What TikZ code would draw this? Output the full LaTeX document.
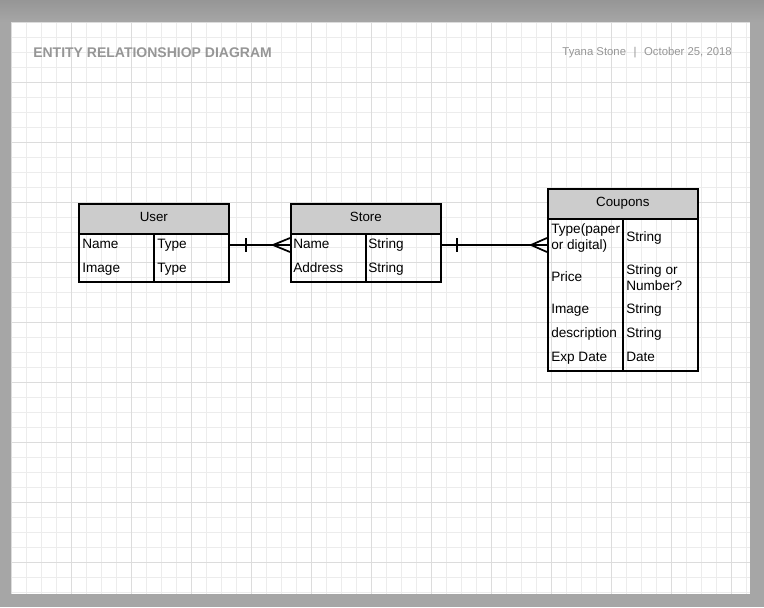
\documentclass[tikz,border=0pt]{standalone}
\usepackage{fontspec}
\setmainfont{Liberation Sans}
\usetikzlibrary{calc}
\definecolor{bggray}{RGB}{166,166,166}
\definecolor{bgdark}{RGB}{150,150,150}
\definecolor{minorgrid}{RGB}{236,236,236}
\definecolor{majorgrid}{RGB}{220,220,220}
\definecolor{hdrfill}{RGB}{204,204,204}
\definecolor{titlegray}{RGB}{150,150,150}
\begin{document}
\begin{tikzpicture}[x=0.75pt,y=-0.75pt,
  hdr/.style={draw, fill=hdrfill, line width=1.3pt, minimum width=112.5pt, minimum height=22.5pt, inner sep=0pt, anchor=north west, text height=7pt, text depth=3.5pt, font=\fontsize{10}{12}\selectfont},
  body/.style={draw, line width=1.3pt, minimum width=112.5pt, inner sep=0pt, anchor=north west},
  cell/.style={anchor=mid west, inner sep=0pt, yshift=-1.5pt, font=\fontsize{10.2}{12}\selectfont},
  cell2/.style={anchor=west, inner sep=0pt, yshift=-1.5pt, align=left, font=\fontsize{10.2}{12}\selectfont},
  conn/.style={line width=1.3pt}]
\useasboundingbox (0,0) rectangle (764,607);
\fill[bggray] (0,0) rectangle (764,607);
\shade[top color=bgdark, bottom color=bggray] (0,0) rectangle (764,22);
\fill[white] (11,22) rectangle (750,594);
% grid
\foreach \x in {11,26,...,750} \draw[minorgrid, line width=0.75pt] (\x,22) -- (\x,594);
\foreach \y in {22,37,...,594} \draw[minorgrid, line width=0.75pt] (11,\y) -- (750,\y);
\foreach \x in {11,71,...,750} \draw[majorgrid, line width=0.75pt] (\x,22) -- (\x,594);
\foreach \y in {22,82,...,594} \draw[majorgrid, line width=0.75pt] (11,\y) -- (750,\y);
% header texts
\node[anchor=west, inner sep=0pt, font=\bfseries\fontsize{10.5}{12}\selectfont, text=titlegray] (title) at (33,53) {ENTITY RELATIONSHIOP DIAGRAM};
\node[anchor=east, inner sep=0pt, font=\fontsize{8.5}{10}\selectfont, text=titlegray] (author) at (732,53) {Tyana Stone\enspace\,|\enspace\,October 25, 2018};
% User
\node[hdr] (userhdr) at (78,203) {User};
\node[body, minimum height=36pt] (userbody) at (78,233) {};
\draw[line width=1.3pt] (userbody.north) -- (userbody.south);
\node[cell] (u11) at (82,243) {Name};
\node[cell] (u12) at (157,243) {Type};
\node[cell] (u21) at (82,267) {Image};
\node[cell] (u22) at (157,267) {Type};
% Store
\node[hdr] (storehdr) at (290,203) {Store};
\node[body, minimum height=36pt] (storebody) at (290,233) {};
\draw[line width=1.3pt] (storebody.north) -- (storebody.south);
\node[cell] (s11) at (293,243) {Name};
\node[cell] (s12) at (368,243) {String};
\node[cell] (s21) at (293,267) {Address};
\node[cell] (s22) at (368,267) {String};
% Coupons
\node[hdr] (couphdr) at (547,188) {Coupons};
\node[body, minimum height=114pt] (coupbody) at (547,218) {};
\draw[line width=1.3pt] (coupbody.north) -- (coupbody.south);
\node[cell2] (c11) at (551,236) {Type(paper\\or digital)};
\node[cell] (c12) at (626,236) {String};
\node[cell] (c21) at (551,276) {Price};
\node[cell2] (c22) at (626,276) {String or\\Number?};
\node[cell] (c31) at (551,308) {Image};
\node[cell] (c32) at (626,308) {String};
\node[cell] (c41) at (551,332) {description};
\node[cell] (c42) at (626,332) {String};
\node[cell] (c51) at (551,356) {Exp Date};
\node[cell] (c52) at (626,356) {Date};
% connectors
\coordinate (a1) at ($(userbody.north east)+(0,12)$);
\coordinate (a2) at ($(storebody.north west)+(0,12)$);
\draw[conn] (a1) -- (a2);
\draw[conn] ($(a1)+(16,-7)$) -- ($(a1)+(16,7)$);
\draw[conn] ($(a2)+(0,-7)$) -- ($(a2)+(-17,0)$) -- ($(a2)+(0,7)$);
\coordinate (b1) at ($(storebody.north east)+(0,12)$);
\coordinate (b2) at ($(coupbody.north west)+(0,27)$);
\draw[conn] (b1) -- (b2);
\draw[conn] ($(b1)+(15,-7)$) -- ($(b1)+(15,7)$);
\draw[conn] ($(b2)+(0,-7)$) -- ($(b2)+(-16,0)$) -- ($(b2)+(0,7)$);
\end{tikzpicture}
\end{document}
